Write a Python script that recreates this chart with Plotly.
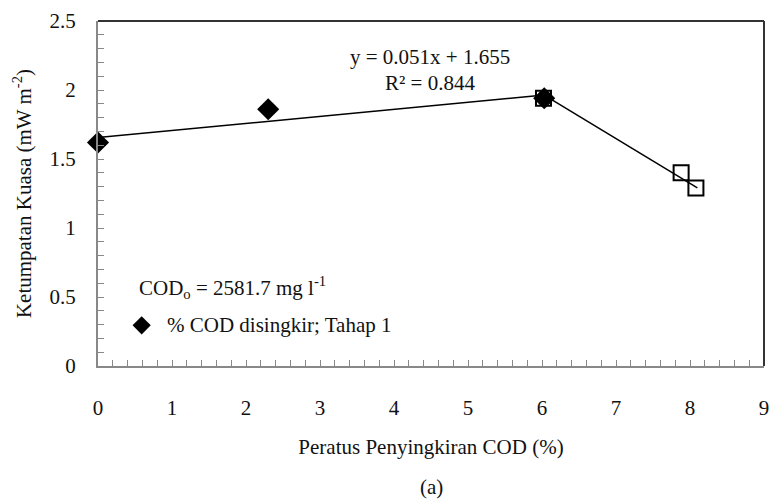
import plotly.graph_objects as go

# Data
dia_x = [0.0, 2.3, 6.03]
dia_y = [1.62, 1.86, 1.94]
sq_x = [6.02, 7.88, 8.08]
sq_y = [1.94, 1.40, 1.29]
trend1_x = [0.0, 6.03]
trend1_y = [1.655, 1.963]
trend2_x = [6.03, 8.1]
trend2_y = [1.963, 1.29]
x_ticks = [0, 1, 2, 3, 4, 5, 6, 7, 8, 9]
y_ticks = [0, 0.5, 1, 1.5, 2, 2.5]

FONT = "Liberation Serif, Times New Roman, serif"
FS = 21
TXT = dict(family=FONT, size=FS, color="#111")
fig = go.Figure()
fig.add_trace(go.Scatter(x=trend1_x, y=trend1_y, mode="lines",
                         line=dict(color="black", width=1.5), showlegend=False))
fig.add_trace(go.Scatter(x=trend2_x, y=trend2_y, mode="lines",
                         line=dict(color="black", width=1.5), showlegend=False))
fig.add_trace(go.Scatter(x=sq_x, y=sq_y, mode="markers",
                         marker=dict(symbol="square-open", size=15, color="black",
                                     line=dict(width=2, color="black")),
                         showlegend=False))
fig.add_trace(go.Scatter(x=dia_x, y=dia_y, mode="markers",
                         marker=dict(symbol="diamond", size=17, color="black"),
                         showlegend=False, cliponaxis=False))

# legend-like entry
fig.add_trace(go.Scatter(x=[0.59], y=[0.295], mode="markers",
                         marker=dict(symbol="diamond", size=14, color="black"),
                         showlegend=False, cliponaxis=False))

fig.add_annotation(x=4.49, y=2.24, text="y = 0.051x + 1.655", showarrow=False, font=TXT)
fig.add_annotation(x=4.49, y=2.05, text="R² = 0.844", showarrow=False, font=TXT)
fig.add_annotation(x=0.53, y=0.57, xanchor="left",
                   text="COD<sub>o</sub> = 2581.7 mg l<sup>-1</sup>", showarrow=False, font=TXT)
fig.add_annotation(x=0.9, y=0.295, xanchor="left",
                   text="% COD disingkir; Tahap 1", showarrow=False, font=TXT)
fig.add_annotation(xref="paper", yref="paper", x=0.5, y=-0.35, yanchor="middle",
                   text="(a)", showarrow=False, font=TXT)

fig.update_xaxes(range=[0, 9], tickvals=x_ticks, showline=True, linecolor="#888", linewidth=2,
                 mirror=False, ticks="inside", ticklen=6, tickcolor="#888",
                 minor=dict(dtick=0.2, ticks="inside", ticklen=6, tickcolor="#888"),
                 showgrid=False, zeroline=False, ticklabelstandoff=22,
                 tickfont=TXT,
                 title=dict(text="Peratus Penyingkiran COD (%)", standoff=20, font=TXT))
fig.update_yaxes(range=[0, 2.5], tickvals=y_ticks, showline=True, linecolor="#888", linewidth=2,
                 ticks="inside", ticklen=6, tickcolor="#888",
                 minor=dict(dtick=0.1, ticks="inside", ticklen=6, tickcolor="#888"),
                 showgrid=False, zeroline=False, ticklabelstandoff=16,
                 tickfont=TXT,
                 title=dict(text="Ketumpatan Kuasa (mW m<sup>-2</sup>)", standoff=12, font=TXT))

# top and right border
fig.add_shape(type="line", xref="paper", yref="paper", x0=0, x1=1, y0=1, y1=1,
              line=dict(color="#333", width=2))
fig.add_shape(type="line", xref="paper", yref="paper", x0=1, x1=1, y0=0, y1=1,
              line=dict(color="#333", width=2))

fig.update_layout(width=778, height=499, margin=dict(l=98, r=9, t=17, b=133),
                  plot_bgcolor="white", paper_bgcolor="white",
                  font=dict(family=FONT))
fig.write_html("out.html")
